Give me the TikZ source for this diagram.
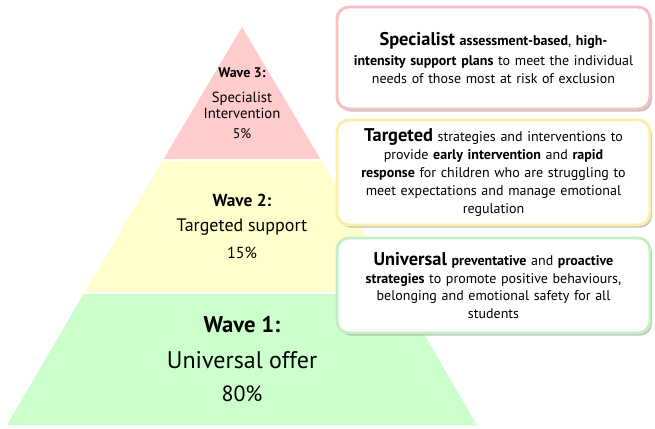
\documentclass[tikz,border=0pt]{standalone}
\usepackage{fontspec}
\setmainfont{PT Sans}
\usepackage{tikz}
\usetikzlibrary{shadows}

\definecolor{wavered}{HTML}{FFCCCC}
\definecolor{waveyellow}{HTML}{FFFFCC}
\definecolor{wavegreen}{HTML}{CCFFCC}
\definecolor{redrim}{HTML}{F7C0C0}
\definecolor{yellowrim}{HTML}{FAF0A8}
\definecolor{greenrim}{HTML}{C2F0C2}

\tikzset{
  infobox/.style={rounded corners=9pt, fill=white, line width=2.2pt,
    minimum width=234.75pt, text width=228pt, align=center,
    font=\fontsize{10.5}{13.4}\selectfont,
    drop shadow={shadow xshift=1.5pt, shadow yshift=-2pt, fill=black!40, opacity=0.6}},
  wavetext/.style={align=center, inner sep=0.75pt}
}
\newcommand{\bigword}[1]{{\fontsize{13.8}{13.4}\selectfont\bfseries #1}}

\begin{document}
\begin{tikzpicture}[x=0.75pt,y=0.75pt,yscale=-1,xscale=1]
  \useasboundingbox (0,0) rectangle (655,428);

  % Wave 1 Band
  \fill[wavegreen] (7,425) -- (84,293) -- (400,293) -- (477,425) -- cycle;
  % Wave 2 Band
  \fill[waveyellow] (84,293) -- (163,160) -- (321,160) -- (400,293) -- cycle;
  % Wave 3 Band
  \fill[wavered] (163,160) -- (242,27) -- (321,160) -- cycle;
  % Trennlinien
  \draw[white, line width=0.9pt] (84,293) -- (400,293);
  \draw[white, line width=0.9pt] (163,160) -- (321,160);

  % Wave 3
  \node[wavetext, font=\fontsize{10.5}{10}\selectfont\bfseries] (w3title) at (242,73) {Wave 3:};
  \node[wavetext, font=\fontsize{11}{12}\selectfont] (w3name) at (242,105) {Specialist\\Intervention};
  \node[wavetext, font=\fontsize{10.5}{12}\selectfont] (w3pct) at (242,134) {5\%};
  % Wave 2
  \node[wavetext, font=\fontsize{13}{12}\selectfont\bfseries] (w2title) at (242,200) {Wave 2:};
  \node[wavetext, font=\fontsize{13.5}{12}\selectfont] (w2name) at (242,227) {Targeted support};
  \node[wavetext, font=\fontsize{12}{12}\selectfont] (w2pct) at (242,253) {15\%};
  % Wave 1
  \node[wavetext, font=\fontsize{17}{18}\selectfont\bfseries] (w1title) at (242,325) {Wave 1:};
  \node[wavetext, font=\fontsize{18}{18}\selectfont] (w1name) at (242,360) {Universal offer};
  \node[wavetext, font=\fontsize{16.5}{18}\selectfont] (w1pct) at (242,394) {80\%};

  % Specialist box
  \node[infobox, draw=redrim, minimum height=76.5pt] (specbox) at (493.5,58)
    {\bigword{Specialist} \textbf{assessment-based}, \textbf{high-}\\[1pt]
     \textbf{intensity support plans} to meet the individual\\
     needs of those most at risk of exclusion};
  % Targeted box
  \node[infobox, draw=yellowrim, minimum height=78.75pt] (targbox) at (493.5,172.5)
    {\bigword{Targeted} strategies and interventions to\\
     provide \textbf{early intervention} and \textbf{rapid}\\
     \textbf{response} for children who are struggling to\\
     meet expectations and manage emotional\\
     regulation};
  % Universal box
  \node[infobox, draw=greenrim, minimum height=71.25pt] (univbox) at (493.5,285.5)
    {\bigword{Universal} \textbf{preventative} and \textbf{proactive}\\
     \textbf{strategies} to promote positive behaviours,\\
     belonging and emotional safety for all\\
     students};
\end{tikzpicture}
\end{document}
